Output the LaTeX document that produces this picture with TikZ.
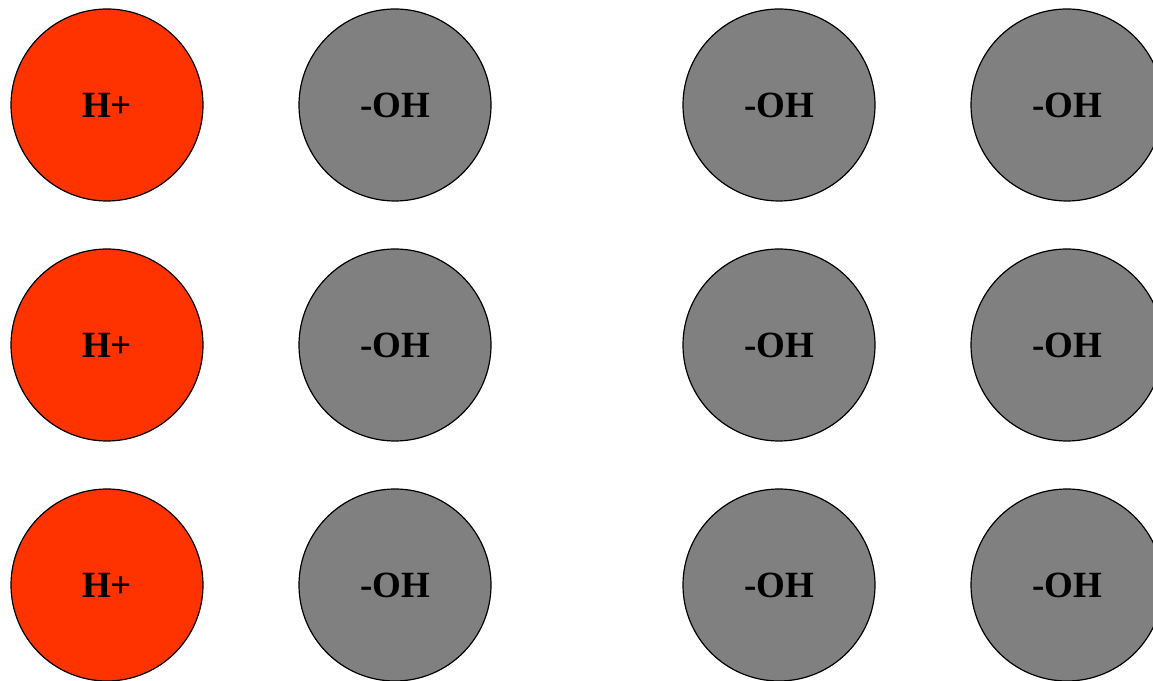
\documentclass[tikz,border=0pt]{standalone}
\usepackage{fontspec}
\setmainfont{Liberation Serif}
\usepackage{xcolor}
\definecolor{protonred}{HTML}{FF3300}
\definecolor{hydroxgray}{HTML}{808080}

\begin{document}
\begin{tikzpicture}[
  x=1pt, y=1pt,
  ion/.style={draw, circle, line width=1.2pt, minimum size=192pt, inner sep=0pt,
    font=\fontsize{37}{42}\selectfont\bfseries},
  hplus/.style={ion, fill=protonred},
  hydrox/.style={ion, fill=hydroxgray}
]
\useasboundingbox (0,0) rectangle (1153,680);
\begin{scope}
\clip (0,0) rectangle (1153,680);
% top row
\node[hplus] (h1) at (107,575) {H+};
\node[hydrox] (oa1) at (395,575) {-OH};
\node[hydrox] (ob1) at (779,575) {-OH};
\node[hydrox] (oc1) at (1067,575) {-OH};
% middle row
\node[hplus] (h2) at (107,335) {H+};
\node[hydrox] (oa2) at (395,335) {-OH};
\node[hydrox] (ob2) at (779,335) {-OH};
\node[hydrox] (oc2) at (1067,335) {-OH};
% bottom row
\node[hplus] (h3) at (107,95) {H+};
\node[hydrox] (oa3) at (395,95) {-OH};
\node[hydrox] (ob3) at (779,95) {-OH};
\node[hydrox] (oc3) at (1067,95) {-OH};
\end{scope}
\end{tikzpicture}
\end{document}
